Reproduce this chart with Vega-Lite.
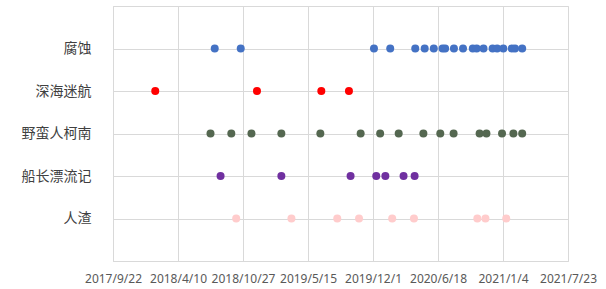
{
  "$schema": "https://vega.github.io/schema/vega-lite/v6.json",
  "width": 455,
  "height": 255,
  "autosize": {"type": "none"},
  "padding": {"left": 113, "top": 6, "right": 38, "bottom": 28},
  "background": "white",
  "config": {"view": {"stroke": "#D9D9D9", "strokeWidth": 1}},
  "data": {
    "values": [
      {"game": "腐蚀", "date": "2018-08-01"},
      {"game": "腐蚀", "date": "2018-10-20"},
      {"game": "腐蚀", "date": "2019-12-04"},
      {"game": "腐蚀", "date": "2020-01-23"},
      {"game": "腐蚀", "date": "2020-04-09"},
      {"game": "腐蚀", "date": "2020-05-08"},
      {"game": "腐蚀", "date": "2020-06-05"},
      {"game": "腐蚀", "date": "2020-07-02"},
      {"game": "腐蚀", "date": "2020-07-10"},
      {"game": "腐蚀", "date": "2020-08-06"},
      {"game": "腐蚀", "date": "2020-09-03"},
      {"game": "腐蚀", "date": "2020-10-03"},
      {"game": "腐蚀", "date": "2020-10-15"},
      {"game": "腐蚀", "date": "2020-11-05"},
      {"game": "腐蚀", "date": "2020-12-03"},
      {"game": "腐蚀", "date": "2020-12-17"},
      {"game": "腐蚀", "date": "2021-01-05"},
      {"game": "腐蚀", "date": "2021-01-31"},
      {"game": "腐蚀", "date": "2021-02-10"},
      {"game": "腐蚀", "date": "2021-03-04"},
      {"game": "深海迷航", "date": "2018-01-30"},
      {"game": "深海迷航", "date": "2018-12-09"},
      {"game": "深海迷航", "date": "2019-06-25"},
      {"game": "深海迷航", "date": "2019-09-18"},
      {"game": "野蛮人柯南", "date": "2018-07-19"},
      {"game": "野蛮人柯南", "date": "2018-09-21"},
      {"game": "野蛮人柯南", "date": "2018-11-22"},
      {"game": "野蛮人柯南", "date": "2019-02-22"},
      {"game": "野蛮人柯南", "date": "2019-06-22"},
      {"game": "野蛮人柯南", "date": "2019-10-24"},
      {"game": "野蛮人柯南", "date": "2019-12-23"},
      {"game": "野蛮人柯南", "date": "2020-02-18"},
      {"game": "野蛮人柯南", "date": "2020-05-04"},
      {"game": "野蛮人柯南", "date": "2020-06-25"},
      {"game": "野蛮人柯南", "date": "2020-08-05"},
      {"game": "野蛮人柯南", "date": "2020-10-24"},
      {"game": "野蛮人柯南", "date": "2020-11-14"},
      {"game": "野蛮人柯南", "date": "2021-01-01"},
      {"game": "野蛮人柯南", "date": "2021-02-05"},
      {"game": "野蛮人柯南", "date": "2021-03-04"},
      {"game": "船长漂流记", "date": "2018-08-19"},
      {"game": "船长漂流记", "date": "2019-02-22"},
      {"game": "船长漂流记", "date": "2019-09-23"},
      {"game": "船长漂流记", "date": "2019-12-11"},
      {"game": "船长漂流记", "date": "2020-01-08"},
      {"game": "船长漂流记", "date": "2020-03-04"},
      {"game": "船长漂流记", "date": "2020-04-07"},
      {"game": "人渣", "date": "2018-10-06"},
      {"game": "人渣", "date": "2019-03-25"},
      {"game": "人渣", "date": "2019-08-13"},
      {"game": "人渣", "date": "2019-10-19"},
      {"game": "人渣", "date": "2020-01-29"},
      {"game": "人渣", "date": "2020-04-05"},
      {"game": "人渣", "date": "2020-10-17"},
      {"game": "人渣", "date": "2020-11-11"},
      {"game": "人渣", "date": "2021-01-14"}
    ]
  },
  "mark": {"type": "circle", "size": 64, "opacity": 1},
  "encoding": {
    "x": {
      "field": "date",
      "type": "temporal",
      "scale": {
        "type": "utc",
        "domain": [
          {"year": 2017, "month": 9, "date": 22, "utc": true},
          {"year": 2021, "month": 7, "date": 23, "utc": true}
        ],
        "nice": false
      },
      "axis": {
        "title": null,
        "values": [
          {"year": 2017, "month": 9, "date": 22, "utc": true},
          {"year": 2018, "month": 4, "date": 10, "utc": true},
          {"year": 2018, "month": 10, "date": 27, "utc": true},
          {"year": 2019, "month": 5, "date": 15, "utc": true},
          {"year": 2019, "month": 12, "date": 1, "utc": true},
          {"year": 2020, "month": 6, "date": 18, "utc": true},
          {"year": 2021, "month": 1, "date": 4, "utc": true},
          {"year": 2021, "month": 7, "date": 23, "utc": true}
        ],
        "labelExpr": "utcFormat(datum.value, '%Y/%-m/%-d')",
        "labelFont": "Noto Sans",
        "labelFontSize": 12,
        "labelColor": "#595959",
        "labelPadding": 12,
        "labelOverlap": false,
        "labelFlush": false,
        "labelBound": false,
        "ticks": false,
        "domainColor": "#D9D9D9",
        "gridColor": "#D9D9D9",
        "grid": true
      }
    },
    "y": {
      "field": "game",
      "type": "nominal",
      "sort": ["腐蚀", "深海迷航", "野蛮人柯南", "船长漂流记", "人渣"],
      "scale": {"type": "point", "padding": 1},
      "axis": {
        "title": null,
        "labelFont": "Noto Sans CJK SC",
        "labelFontSize": 14,
        "labelColor": "#404040",
        "labelPadding": 22,
        "ticks": false,
        "domainColor": "#D9D9D9",
        "grid": true,
        "gridColor": "#D9D9D9"
      }
    },
    "color": {
      "field": "game",
      "type": "nominal",
      "scale": {
        "domain": ["腐蚀", "深海迷航", "野蛮人柯南", "船长漂流记", "人渣"],
        "range": ["#4472C4", "#FF0000", "#546750", "#7030A0", "#FFCCCC"]
      },
      "legend": null
    }
  }
}
